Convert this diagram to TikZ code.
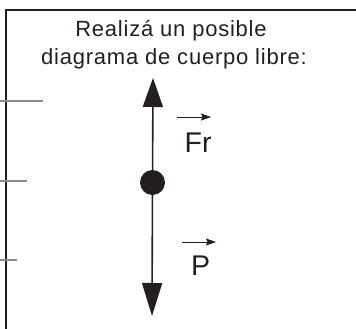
\documentclass[tikz,border=0pt]{standalone}
\usepackage{fontspec}
\setmainfont{Liberation Sans}
\newfontfamily\titlefont[LetterSpace=3.5]{Liberation Sans}
\usetikzlibrary{arrows.meta}
\definecolor{ink}{HTML}{231F20}
\definecolor{tick}{HTML}{8A8A8A}
\tikzset{
  x=1pt, y=-1pt,
  frame/.style={draw=ink, line width=2pt},
  ticks/.style={draw=tick, line width=1.2pt},
  force/.style={draw=ink, line width=1.6pt},
  titletext/.style={anchor=base, inner sep=0pt, font=\titlefont\fontsize{22}{22}\selectfont, text=ink},
  lbl/.style={anchor=base west, inner sep=0pt, font=\fontsize{28.5}{28.5}\selectfont, text=ink},
  vecarrow/.style={draw=ink, line width=1pt, -{Stealth[length=10pt,width=7pt,inset=1.5pt]}},
  dot/.style={circle, fill=ink, inner sep=0pt, minimum size=25pt}
}
\begin{document}
\begin{tikzpicture}
\useasboundingbox (0,0) rectangle (356,329);
% frame
\coordinate (fb) at (6,330);
\coordinate (fc) at (6,10);
\coordinate (fr) at (357,10);
\draw[frame] (fb) -- (fc) -- (fr);
% left ticks
\coordinate (t1a) at (0,101); \coordinate (t1b) at (43,101);
\coordinate (t2a) at (0,181); \coordinate (t2b) at (27,181);
\coordinate (t3a) at (0,260); \coordinate (t3b) at (17,260);
\draw[ticks] (t1a) -- (t1b);
\draw[ticks] (t2a) -- (t2b);
\draw[ticks] (t3a) -- (t3b);
% title
\node[titletext] (title1) at (171,37) {Realizá un posible};
\node[titletext] (title2) at (174,64) {diagrama de cuerpo libre:};
% body and forces
\node[dot] (body) at (152.5,182.5) {};
\coordinate (uptip) at (153,78);
\coordinate (downtip) at (152,316);
\draw[force, -{Triangle[length=29pt,width=20pt]}] (body.center) -- (uptip);
\draw[force, -{Triangle[length=33pt,width=20pt]}] (body.center) -- (downtip);
% labels
\node[lbl] (frlabel) at (184.5,152) {Fr};
\coordinate (fra) at (177,117);
\coordinate (frb) at (211,117);
\draw[vecarrow] (fra) -- (frb);
\node[lbl] (plabel) at (191,275) {P};
\coordinate (pa) at (182,242);
\coordinate (pb) at (216,242);
\draw[vecarrow] (pa) -- (pb);
\end{tikzpicture}
\end{document}
